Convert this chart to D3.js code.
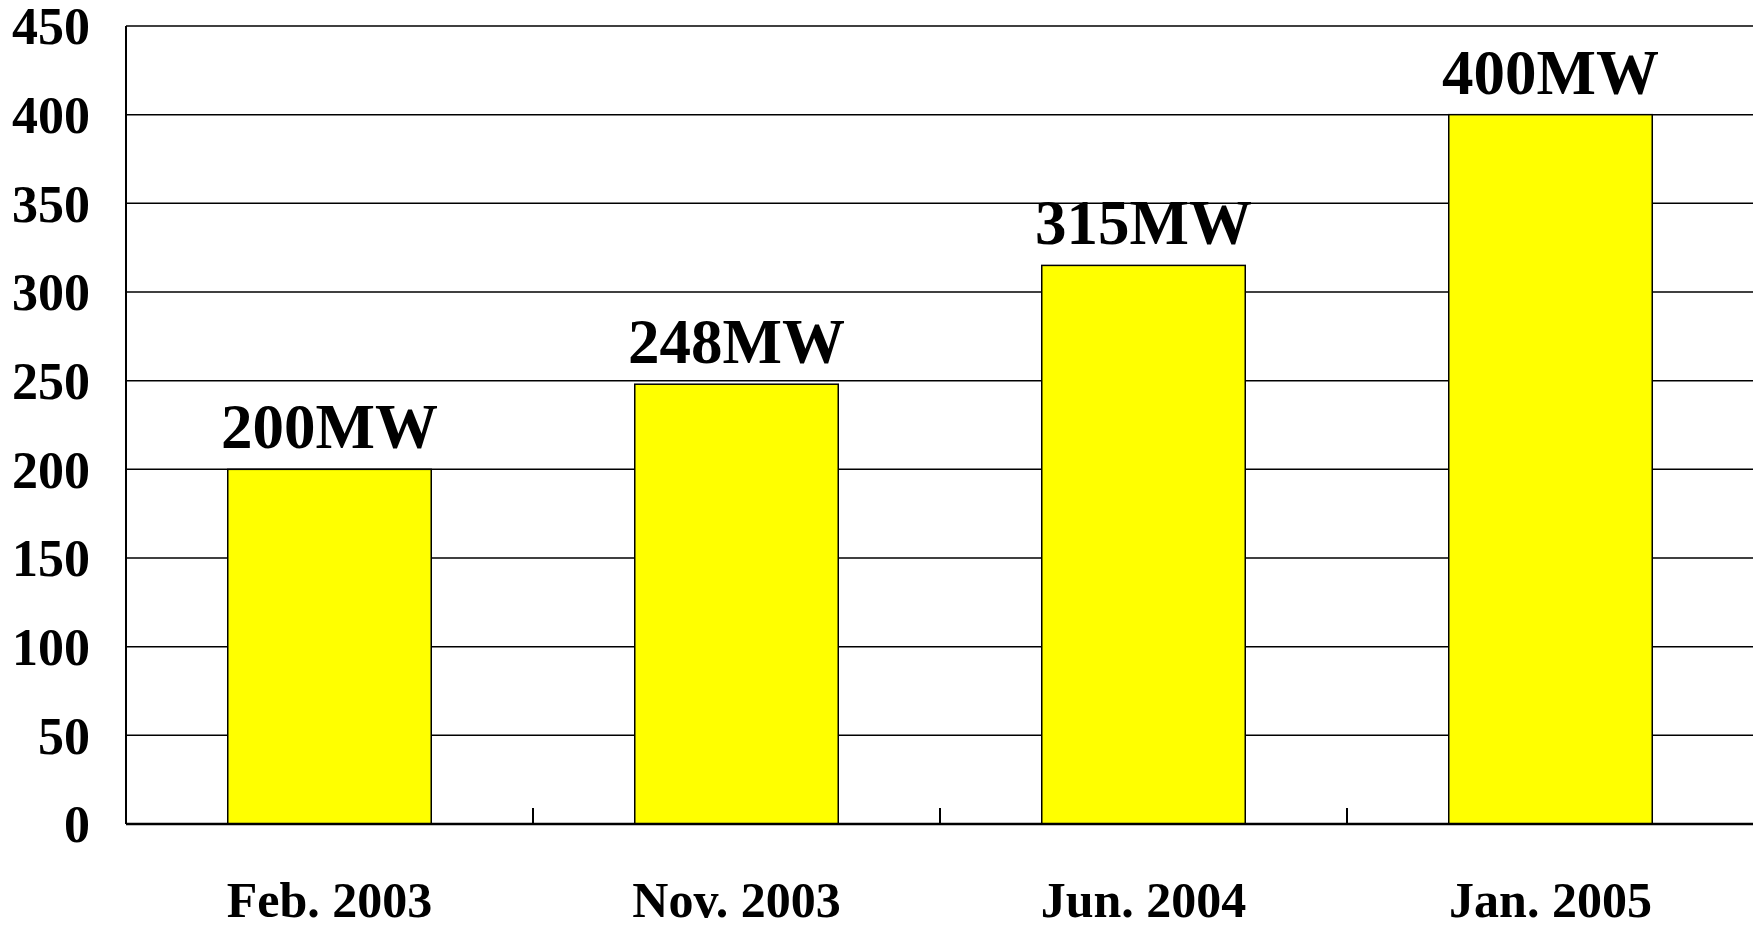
<!DOCTYPE html>
<html>
<head>
<meta charset="utf-8">
<script src="https://cdn.jsdelivr.net/npm/d3@7"></script>
<style>
  body { margin: 0; background: #fff; }
  text { font-family: "Liberation Serif", "Times New Roman", serif; font-weight: bold; fill: #000; }
</style>
</head>
<body>
<div id="chart"></div>
<script>
let categories = ["Feb. 2003", "Nov. 2003", "Jun. 2004", "Jan. 2005"];
let values = [200, 248, 315, 400];
let barLabels = ["200MW", "248MW", "315MW", "400MW"];
let yTicks = [0, 50, 100, 150, 200, 250, 300, 350, 400, 450];

let width = 1753;
let height = 925;
let margin = { top: 26, right: -1, bottom: 101, left: 126 };

let svg = d3.select("#chart")
    .append("svg")
    .attr("width", width)
    .attr("height", height);

const x = d3.scaleBand()
    .domain(categories)
    .range([margin.left, width - margin.right])
    .paddingInner(0.5)
    .paddingOuter(0.25);

const y = d3.scaleLinear()
    .domain([0, 450])
    .range([height - margin.bottom, margin.top]);

// grid lines
svg.append("g")
    .selectAll("line")
    .data(yTicks.filter(d => d > 0))
    .join("line")
    .attr("x1", margin.left)
    .attr("x2", width)
    .attr("y1", d => y(d))
    .attr("y2", d => y(d))
    .attr("stroke", "#000")
    .attr("stroke-width", 1.5);

// y tick labels
svg.append("g")
    .selectAll("text")
    .data(yTicks)
    .join("text")
    .attr("x", margin.left - 36)
    .attr("y", d => y(d))
    .attr("dy", "0.35em")
    .attr("text-anchor", "end")
    .style("font-size", "52px")
    .text(d => d);

// bars
svg.append("g")
    .selectAll("rect")
    .data(values)
    .join("rect")
    .attr("x", (d, i) => x(categories[i]))
    .attr("y", d => y(d))
    .attr("width", x.bandwidth())
    .attr("height", d => y(0) - y(d))
    .attr("fill", "#ffff00")
    .attr("stroke", "#000")
    .attr("stroke-width", 1.5);

// bar labels
svg.append("g")
    .selectAll("text")
    .data(values)
    .join("text")
    .attr("x", (d, i) => x(categories[i]) + x.bandwidth() / 2)
    .attr("y", d => y(d) - 21)
    .attr("text-anchor", "middle")
    .style("font-size", "63px")
    .text((d, i) => barLabels[i]);

// axes
svg.append("line")
    .attr("x1", margin.left).attr("x2", margin.left)
    .attr("y1", y(450)).attr("y2", y(0))
    .attr("stroke", "#000").attr("stroke-width", 2);

svg.append("line")
    .attr("x1", margin.left).attr("x2", width)
    .attr("y1", y(0)).attr("y2", y(0))
    .attr("stroke", "#000").attr("stroke-width", 2.5);

// category divider ticks
let step = x.step();
svg.append("g")
    .selectAll("line")
    .data(categories.slice(1))
    .join("line")
    .attr("x1", d => x(d) - step * 0.25)
    .attr("x2", d => x(d) - step * 0.25)
    .attr("y1", y(0))
    .attr("y2", y(0) - 16)
    .attr("stroke", "#000")
    .attr("stroke-width", 2);

// category labels
svg.append("g")
    .selectAll("text")
    .data(categories)
    .join("text")
    .attr("x", d => x(d) + x.bandwidth() / 2)
    .attr("y", 917)
    .attr("text-anchor", "middle")
    .style("font-size", "50px")
    .text(d => d);
</script>
</body>
</html>
